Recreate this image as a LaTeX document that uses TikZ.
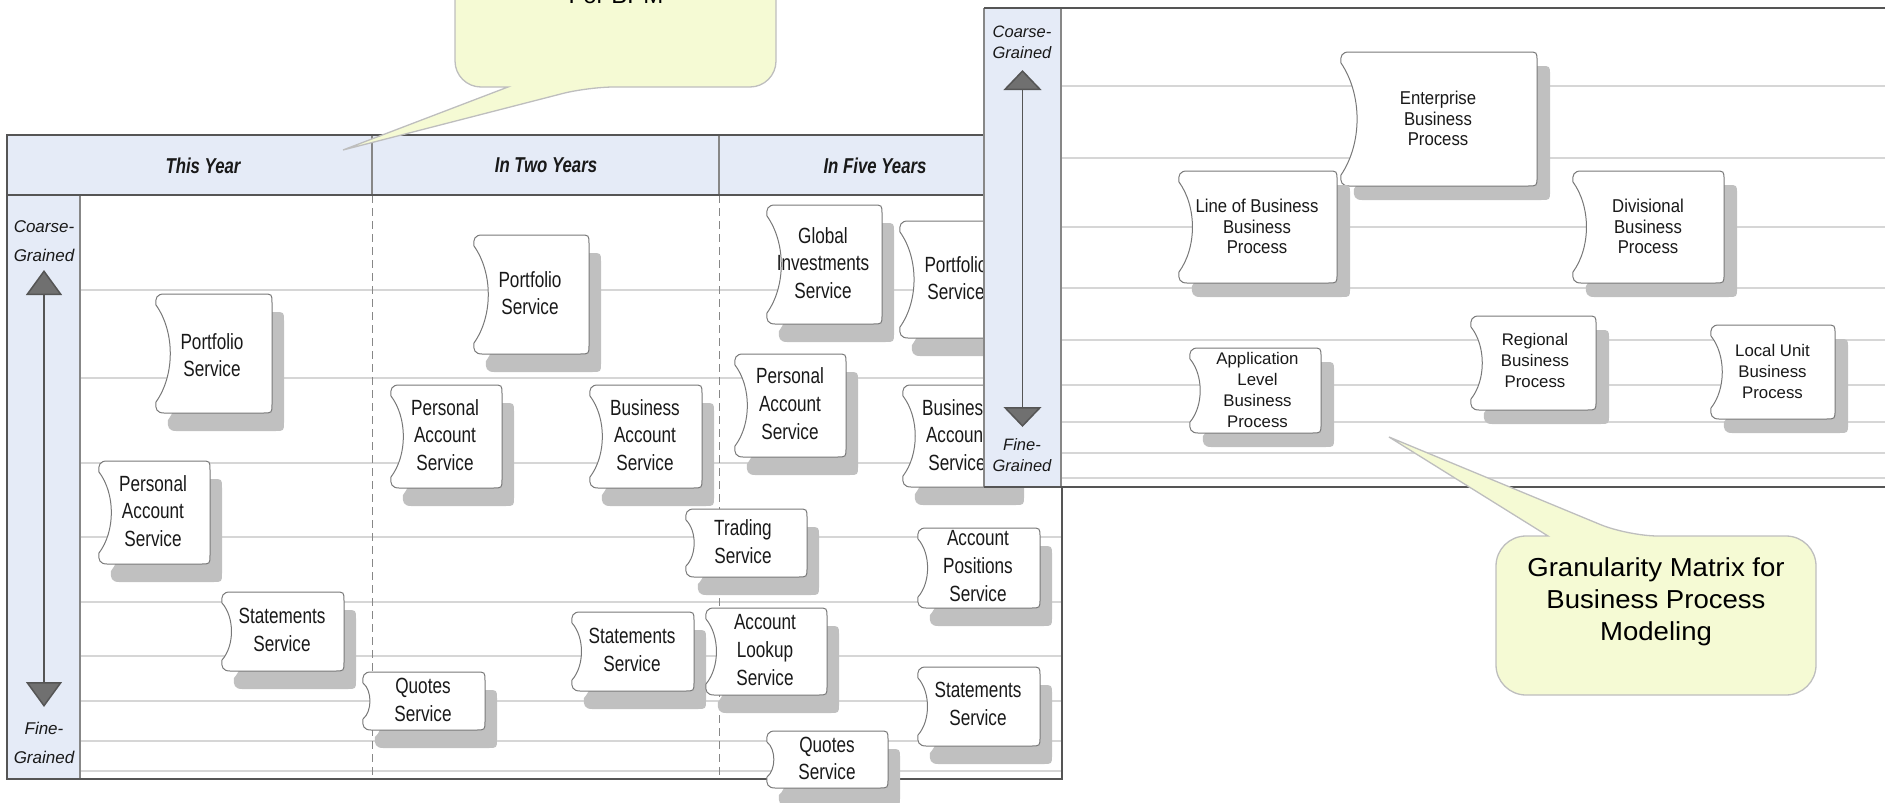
\documentclass[tikz,border=0pt]{standalone}
\usepackage{fontspec}
\setmainfont{Liberation Sans}
\newfontfamily\svcfont[FakeStretch=0.78]{Liberation Sans}
\newfontfamily\rpfont[FakeStretch=0.90]{Liberation Sans}
\newfontfamily\callfont[FakeStretch=1.06]{Liberation Sans}
\usetikzlibrary{arrows.meta}
\definecolor{hdrfill}{RGB}{229,235,247}
\definecolor{framec}{RGB}{85,85,85}
\definecolor{colc}{RGB}{135,135,135}
\definecolor{gridc}{RGB}{214,214,214}
\definecolor{shadowgray}{RGB}{192,192,192}
\definecolor{nodeborder}{RGB}{120,120,120}
\definecolor{callfill}{RGB}{245,250,212}
\definecolor{callborder}{RGB}{190,190,190}
\definecolor{tri}{RGB}{112,112,112}
\definecolor{textc}{RGB}{25,25,25}
\newcommand{\shx}{12}
\newcommand{\shy}{18}
\newcommand{\svcpath}[4]{({#1+9},{#2}) -- ({#3-9},{#2}) .. controls ({#3},{#2}) .. ({#3},{#2+9}) -- ({#3},{#4-9}) .. controls ({#3},{#4}) .. ({#3-9},{#4}) -- ({#1+9},{#4}) .. controls ({#1+2},{#4}) and ({#1},{#4-4}) .. ({#1+1},{#4-11}) .. controls ({#1+1+0.16*(#4-#2)},{#4-0.32*(#4-#2)}) and ({#1+1+0.16*(#4-#2)},{#2+0.32*(#4-#2)}) .. ({#1+1},{#2+11}) .. controls ({#1},{#2+4}) and ({#1+2},{#2}) .. ({#1+9},{#2}) -- cycle}
\newcommand{\svc}[9]{%
  \pgfmathsetmacro\sxa{#2+\shx}\pgfmathsetmacro\sya{#3+\shy}%
  \pgfmathsetmacro\sxb{#4+\shx}\pgfmathsetmacro\syb{#5+\shy}%
  \fill[shadowc] \svcpath{\sxa}{\sya}{\sxb}{\syb};
  \filldraw[svcbox] \svcpath{#2}{#3}{#4}{#5};
  \node[#8] (#1) at (#6,#7) {#9};}
\begin{document}
\begin{tikzpicture}[x=1pt,y=-1pt,
  svcbox/.style={fill=white, draw=nodeborder, line width=1pt},
  shadowc/.style={fill=shadowgray},
  svctext/.style={font=\svcfont\fontsize{22}{27.7}\selectfont, align=center, inner sep=0pt, text=textc},
  rptext/.style={font=\rpfont\fontsize{18.6}{20.8}\selectfont, align=center, inner sep=0pt, text=textc},
  rptextn/.style={font=\fontsize{16.8}{21}\selectfont, align=center, inner sep=0pt, text=textc},
  hdr/.style={font=\svcfont\fontsize{21.5}{24}\selectfont\bfseries\itshape, inner sep=0pt, text=textc},
  axlbl/.style={font=\fontsize{17}{29}\selectfont\itshape, align=center, inner sep=0pt, text=textc},
  axlblr/.style={font=\fontsize{16.5}{21}\selectfont\itshape, align=center, inner sep=0pt, text=textc},
  gridline/.style={draw=gridc, line width=1.3pt},
  tframe/.style={draw=framec, line width=2pt},
  colln/.style={draw=colc, line width=1.6pt},
  dashln/.style={draw=colc, line width=1pt, dash pattern=on 8pt off 5pt},
  callout/.style={fill=callfill, draw=callborder, line width=1.3pt},
  calltext/.style={font=\callfont\fontsize{26}{32}\selectfont, align=center, inner sep=0pt, text=black},
  axisln/.style={draw=framec, line width=1.5pt, {Triangle[width=36pt,length=25pt,fill=tri]}-{Triangle[width=36pt,length=25pt,fill=tri]}},
  axislnr/.style={draw=framec, line width=1.5pt, {Triangle[width=38pt,length=20pt,fill=tri]}-{Triangle[width=38pt,length=20pt,fill=tri]}}
]
\useasboundingbox (0,0) rectangle (1885,803);

% ---------- left table ----------
\fill[hdrfill] (7,135) rectangle (1062,195);
\fill[hdrfill] (7,195) rectangle (80,779);
\foreach \yy in {290,378,463,537,602,656,701,741,771} \draw[gridline] (80,\yy) -- (1062,\yy);
\draw[dashln] (372,195) -- (372,779);
\draw[dashln] (719,195) -- (719,779);
\draw[colln] (372,135) -- (372,195);
\draw[colln] (719,135) -- (719,195);
\draw[colln] (80,195) -- (80,779);
\draw[tframe] (7,135) rectangle (1062,779);
\draw[tframe] (7,195) -- (1062,195);

\node[hdr, anchor=base] (h1) at (203,173) {This Year};
\node[hdr, anchor=base] (h2) at (546,172) {In Two Years};
\node[hdr, anchor=base] (h3) at (875,173) {In Five Years};

\coordinate (lax1) at (44,270);
\coordinate (lax2) at (44,707);
\draw[axisln] (lax1) -- (lax2);
\node[axlbl] (lcoarse) at (44,241.3) {Coarse-\\Grained};
\node[axlbl] (lfine) at (44,742.8) {Fine-\\Grained};

% top callout
\filldraw[callout] (588,87) -- (343,150) -- (508,87) [rounded corners=26pt] -- (455,87) -- (455,-80) -- (776,-80) -- (776,87) -- cycle;
\node[calltext, font=\fontsize{24}{31.5}\selectfont, anchor=base] (c1txt) at (616,4) {For BPM};

% services, this year
\svc{a1}{155}{294}{272}{413}{212}{355}{svctext}{Portfolio\\Service}
\svc{a2}{98}{461}{210}{564}{153}{511}{svctext}{Personal\\Account\\Service}
\svc{a3}{221}{592}{344}{671}{282}{630}{svctext}{Statements\\Service}
% in two years
\svc{b1}{473}{235}{589}{354}{530}{293}{svctext}{Portfolio\\Service}
\svc{b2}{390}{385}{502}{488}{445}{435}{svctext}{Personal\\Account\\Service}
\svc{b3}{589}{385}{702}{488}{645}{435}{svctext}{Business\\Account\\Service}
\svc{b4}{362}{672}{485}{730}{423}{700}{svctext}{Quotes\\Service}
\svc{b5}{571}{612}{694}{691}{632}{650}{svctext}{Statements\\Service}
% in five years
\svc{c1}{766}{205}{882}{324}{823}{263}{svctext}{Global\\Investments\\Service}
\svc{c2}{899}{221}{1012}{338}{956}{278}{svctext}{Portfolio\\Service}
\svc{c3}{734}{354}{846}{457}{790}{403.5}{svctext}{Personal\\Account\\Service}
\svc{c4}{902}{385}{1012}{487}{957}{435}{svctext}{Business\\Account\\Service}
\svc{c5}{685}{509}{807}{577}{743}{541.5}{svctext}{Trading\\Service}
\svc{c6}{917}{528}{1040}{608}{978}{566}{svctext}{Account\\Positions\\Service}
\svc{c7}{705}{608}{827}{695}{765}{650}{svctext}{Account\\Lookup\\Service}
\svc{c8}{917}{667}{1040}{746}{978}{704}{svctext}{Statements\\Service}
\svc{c9}{766}{731}{888}{788}{827}{758.5}{svctext}{Quotes\\Service}

% ---------- right panel ----------
\fill[white] (984,8) rectangle (1885,487);
\fill[hdrfill] (984,8) rectangle (1061,487);
\foreach \yy in {86,158,227,288,340,385,422,453,478} \draw[gridline] (1061,\yy) -- (1885,\yy);
\draw[colln] (984,8) -- (984,487);
\draw[colln] (1061,8) -- (1061,487);
\draw[tframe] (984,8) -- (1885,8);
\draw[tframe] (984,487) -- (1885,487);

\coordinate (rax1) at (1022.5,70);
\coordinate (rax2) at (1022.5,427);
\draw[axislnr] (rax1) -- (rax2);
\node[axlblr] (rcoarse) at (1022,42.8) {Coarse-\\Grained};
\node[axlblr] (rfine) at (1022,455) {Fine-\\Grained};

\renewcommand{\shx}{13}
\renewcommand{\shy}{14}
\svc{r1}{1340}{52}{1537}{186}{1438}{118.5}{rptext}{Enterprise\\Business\\Process}
\svc{r2}{1178}{171}{1337}{283}{1257}{226.5}{rptext}{Line of Business\\Business\\Process}
\svc{r3}{1572}{171}{1724}{283}{1648}{226.5}{rptext}{Divisional\\Business\\Process}
\svc{r4}{1189}{348}{1321}{433}{1257.5}{390}{rptextn}{Application\\Level\\Business\\Process}
\svc{r5}{1470}{316}{1596}{410}{1535}{360}{rptextn}{Regional\\Business\\Process}
\svc{r6}{1710}{325}{1835}{419}{1772.5}{371.5}{rptextn}{Local Unit\\Business\\Process}

% bottom-right callout
\filldraw[callout] (1628,536) -- (1389,437) -- (1548,536) [rounded corners=30pt] -- (1496,536) -- (1496,695) -- (1816,695) -- (1816,536) -- cycle;
\node[calltext] (c2txt) at (1656,602) {Granularity Matrix for\\Business Process\\Modeling};
\end{tikzpicture}
\end{document}
